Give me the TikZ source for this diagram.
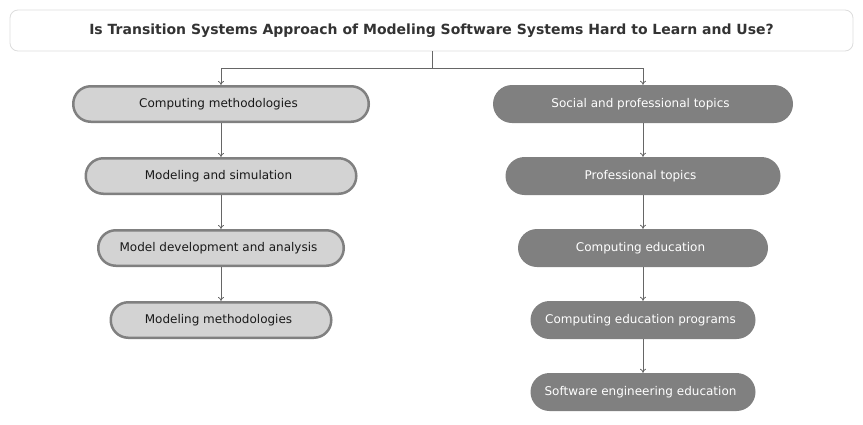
\documentclass[tikz,border=0pt]{standalone}
\usepackage{fontspec}
\setmainfont{DejaVu Sans}
\usetikzlibrary{arrows.meta}
\definecolor{lfill}{HTML}{D3D3D3}
\definecolor{lborder}{HTML}{808080}
\definecolor{dfill}{HTML}{808080}
\definecolor{lineC}{HTML}{666666}
\definecolor{titleC}{HTML}{333333}
\definecolor{tborder}{HTML}{DDDDDD}
\tikzset{
  lnode/.style={draw=lborder, line width=2.5pt, fill=lfill, rounded corners=17.5pt,
    minimum height=35.5pt, inner sep=0pt, font=\fontsize{12}{14}\selectfont, text=black!90,
    execute at begin node=\kern-5pt},
  dnode/.style={fill=dfill, rounded corners=19pt, minimum height=38pt, inner sep=0pt,
    font=\fontsize{12}{14}\selectfont, text=white, execute at begin node=\kern-5pt},
  conn/.style={draw=lineC, line width=0.8pt, -{To[length=4pt,width=6pt]}},
}
\begin{document}
\begin{tikzpicture}[x=1pt,y=-1pt]
\useasboundingbox (0,0) rectangle (863,424);
\node[draw=tborder, line width=0.8pt, fill=white, rounded corners=8pt, minimum width=843pt,
  minimum height=41pt, font=\bfseries\fontsize{14}{16}\selectfont, text=titleC] (title) at (431.5,30.5)
  {Is Transition Systems Approach of Modeling Software Systems Hard to Learn and Use?};

\node[lnode, minimum width=295.5pt] (l1) at (221,104) {Computing methodologies};
\node[lnode, minimum width=270.5pt] (l2) at (221,176) {Modeling and simulation};
\node[lnode, minimum width=245.5pt] (l3) at (221,248) {Model development and analysis};
\node[lnode, minimum width=220.5pt] (l4) at (221,320) {Modeling methodologies};

\node[dnode, minimum width=300pt] (r1) at (643,104) {Social and professional topics};
\node[dnode, minimum width=275pt] (r2) at (643,176) {Professional topics};
\node[dnode, minimum width=250pt] (r3) at (643,248) {Computing education};
\node[dnode, minimum width=225pt] (r4) at (643,320) {Computing education programs};
\node[dnode, minimum width=225pt] (r5) at (643,392) {Software engineering education};

\coordinate (split) at (432,68);
\draw[draw=lineC, line width=0.8pt] (title.south -| split) -- (split);
\draw[conn] (split) -| (l1.north);
\draw[conn] (split) -| (r1.north);
\draw[conn] (l1) -- (l2);
\draw[conn] (l2) -- (l3);
\draw[conn] (l3) -- (l4);
\draw[conn] (r1) -- (r2);
\draw[conn] (r2) -- (r3);
\draw[conn] (r3) -- (r4);
\draw[conn] (r4) -- (r5);
\end{tikzpicture}
\end{document}
